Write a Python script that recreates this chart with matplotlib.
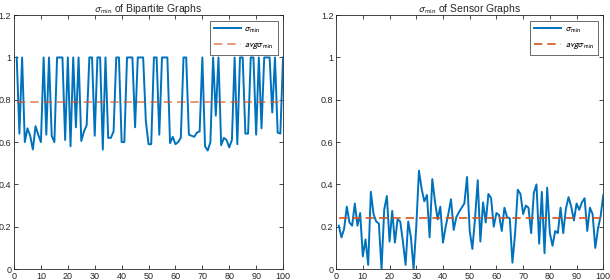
import numpy as np
import matplotlib.pyplot as plt

# sigma_min values, 100 graphs each
bipartite = [1.0, 0.64, 1.0, 0.60, 0.665, 0.63, 0.565, 0.675, 0.635, 0.60,
             1.0, 0.635, 1.0, 0.63, 0.60, 1.0, 1.0, 1.0, 0.61, 1.0,
             0.58, 1.0, 0.67, 1.0, 0.605, 0.65, 0.68, 1.0, 1.0, 0.63,
             1.0, 1.0, 0.565, 1.0, 0.62, 0.62, 0.65, 1.0, 1.0, 0.60,
             0.60, 1.0, 1.0, 1.0, 0.67, 1.0, 1.0, 1.0, 0.70, 0.59,
             0.59, 1.0, 1.0, 0.635, 1.0, 1.0, 1.0, 0.595, 0.625, 0.59,
             0.60, 0.62, 1.0, 1.0, 0.635, 0.63, 0.625, 0.645, 0.65, 1.0,
             0.58, 0.56, 0.60, 1.0, 0.725, 1.0, 0.585, 0.62, 0.61, 0.575,
             0.61, 1.0, 0.59, 1.0, 1.0, 0.64, 0.64, 1.0, 1.0, 0.635,
             1.0, 0.665, 1.0, 1.0, 1.0, 0.74, 1.0, 0.645, 0.64, 1.0]

sensor = [0.205, 0.15, 0.19, 0.295, 0.22, 0.205, 0.31, 0.205, 0.265, 0.06,
          0.14, 0.02, 0.365, 0.26, 0.225, 0.215, 0.0, 0.28, 0.345, 0.13,
          0.275, 0.125, 0.235, 0.225, 0.13, 0.02, 0.225, 0.15, 0.0, 0.20,
          0.465, 0.38, 0.32, 0.35, 0.15, 0.425, 0.32, 0.235, 0.295, 0.125,
          0.20, 0.26, 0.33, 0.185, 0.245, 0.27, 0.29, 0.31, 0.435, 0.18,
          0.095, 0.24, 0.42, 0.13, 0.315, 0.22, 0.355, 0.335, 0.20, 0.265,
          0.255, 0.18, 0.29, 0.245, 0.24, 0.03, 0.17, 0.375, 0.355, 0.26,
          0.30, 0.29, 0.17, 0.36, 0.40, 0.12, 0.365, 0.075, 0.385, 0.17,
          0.11, 0.18, 0.17, 0.29, 0.17, 0.285, 0.34, 0.295, 0.23, 0.31,
          0.28, 0.315, 0.335, 0.18, 0.29, 0.26, 0.10, 0.19, 0.25, 0.35]

avg_bipartite = 0.79
avg_sensor = 0.24

titles = [r'$\sigma_{\rm min}$ of Bipartite Graphs', r'$\sigma_{\rm min}$ of Sensor Graphs']
yticks = [0, 0.2, 0.4, 0.6, 0.8, 1, 1.2]
yticklabels = ['0', '0.2', '0.4', '0.6', '0.8', '1', '1.2']
xticks = list(range(0, 101, 10))

plt.rcParams['font.family'] = ['Liberation Sans', 'DejaVu Sans']
plt.rcParams['mathtext.fontset'] = 'stixsans'

fig = plt.figure(figsize=(6.1, 2.8), dpi=100)
ax1 = fig.add_axes([0.023, 0.039, 0.441, 0.907])
ax2 = fig.add_axes([0.551, 0.039, 0.438, 0.907])

blue = '#0072BD'
orange = '#D95319'

for ax, data, avg, title, oalpha in [(ax1, bipartite, avg_bipartite, titles[0], 0.7),
                                     (ax2, sensor, avg_sensor, titles[1], 1.0)]:
    x = np.arange(1, len(data) + 1)
    ax.plot(x, data, color=blue, lw=1.4, label=r'$\sigma_{\rm min}$')
    ax.plot(x, np.full(len(data), avg), '--', color=orange, lw=1.2, alpha=oalpha,
            dashes=(5, 3), label=r'$avg\sigma_{\rm min}$')
    ax.set_xlim(0, 100)
    ax.set_ylim(0, 1.2)
    ax.set_xticks(xticks)
    ax.set_yticks(yticks)
    ax.set_yticklabels(yticklabels)
    ax.tick_params(direction='in', length=3, width=0.6, labelsize=6.5,
                   colors='#262626', top=True, right=True, pad=2)
    for s in ax.spines.values():
        s.set_linewidth(0.6)
        s.set_color('#262626')
    ax.set_title(title, fontsize=7.5, pad=2, color='#262626')
    leg = ax.legend(loc='upper right', fontsize=6.5, fancybox=False, edgecolor='#262626',
                    handlelength=3.0, borderpad=0.45, labelspacing=0.55, handletextpad=0.4,
                    borderaxespad=0.6)
    leg.get_frame().set_linewidth(0.6)

fig.savefig('out.png', dpi=100)
